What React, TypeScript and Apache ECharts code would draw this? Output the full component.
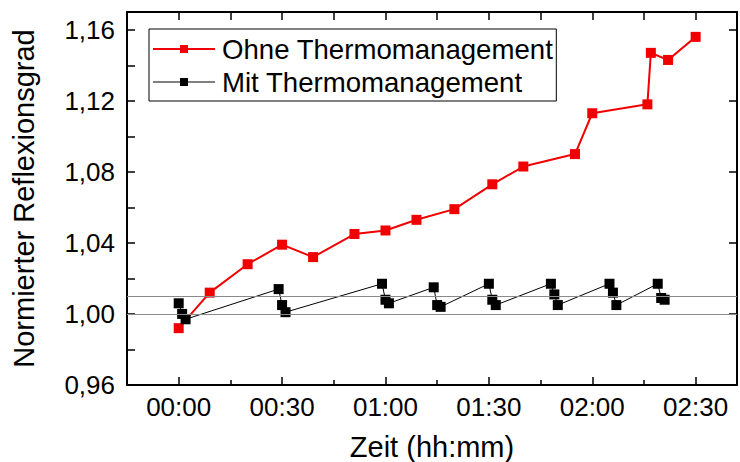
import React, { useEffect, useRef } from 'react';
import * as echarts from 'echarts';

// Elapsed time in minutes and normalised reflectance, without thermal management
const TIME_OHNE = [0, 9, 20, 30, 39, 51, 60, 69, 80, 91, 100, 115, 120, 136, 137, 142, 150];
const VALUE_OHNE = [0.992, 1.012, 1.028, 1.039, 1.032, 1.045, 1.047, 1.053, 1.059, 1.073, 1.083, 1.09, 1.113, 1.118, 1.147, 1.143, 1.156];

// Elapsed time in minutes and normalised reflectance, with thermal management
const TIME_MIT = [0, 1, 2, 29, 30, 31, 59, 60, 61, 74, 75, 76, 90, 91, 92, 108, 109, 110, 125, 126, 127, 139, 140, 141];
const VALUE_MIT = [1.006, 1.0, 0.997, 1.014, 1.005, 1.001, 1.017, 1.008, 1.006, 1.015, 1.005, 1.004, 1.017, 1.008, 1.005, 1.017, 1.011, 1.005, 1.017, 1.012, 1.005, 1.017, 1.009, 1.008];

// Horizontal reference levels
const REF_LEVELS = [1.0, 1.01];

// Time axis ticks (minutes)
const MAJOR_TIME_TICKS = [0, 30, 60, 90, 120, 150];
const MINOR_TIME_TICKS = [15, 45, 75, 105, 135];
const ALL_TIME_TICKS = [...MAJOR_TIME_TICKS, ...MINOR_TIME_TICKS].sort((a, b) => a - b);

const SERIES_NAMES = ['Ohne Thermomanagement', 'Mit Thermomanagement'];

const FONT = "'Liberation Sans', Arial, sans-serif";
const RED = '#f00000';

const X_MIN = -15;
const X_MAX = 162;
const Y_MIN = 0.96;
const Y_MAX = 1.17;

const fmtTime = (m: number) => {
  const h = Math.floor(m / 60);
  const mm = Math.round(m - h * 60);
  return `${String(h).padStart(2, '0')}:${String(mm).padStart(2, '0')}`;
};

const fmtValue = (v: number) => {
  const c = Math.round(v * 100);
  if (c % 4 !== 0 || v > 1.165) return '';
  return v.toFixed(2).replace('.', ',');
};

const GRID = { left: 127, right: 3, top: 12, bottom: 77, outerBoundsMode: 'none' };

export default function App() {
  const ref = useRef<HTMLDivElement>(null);

  useEffect(() => {
    if (!ref.current) return;
    const chart = echarts.init(ref.current, undefined, { renderer: 'svg' });

    const frameLine = { show: true, onZero: false, lineStyle: { color: '#000', width: 2 } };
    const tickStyle = { color: '#000', width: 1.5 };

    chart.setOption({
      animation: false,
      backgroundColor: '#fff',
      textStyle: { fontFamily: FONT },
      grid: [{ ...GRID }, { ...GRID }],
      legend: {
        left: 149,
        top: 29,
        orient: 'vertical',
        padding: [6, 3, 5, 3],
        itemGap: 5,
        itemWidth: 62,
        itemHeight: 10,
        borderColor: '#000',
        borderWidth: 1,
        textStyle: { fontSize: 27.6, color: '#000', fontFamily: FONT, padding: [0, 0, 0, 2] },
        data: [
          { name: SERIES_NAMES[0], lineStyle: { color: RED, width: 2 } },
          { name: SERIES_NAMES[1], lineStyle: { color: '#808080', width: 2 } },
        ],
      },
      xAxis: [
        {
          type: 'value',
          gridIndex: 0,
          position: 'bottom',
          min: X_MIN,
          max: X_MAX,
          name: 'Zeit (hh:mm)',
          nameLocation: 'middle',
          nameGap: 47,
          nameTextStyle: { fontSize: 29, color: '#000', fontFamily: FONT },
          axisLine: frameLine,
          axisTick: { show: true, inside: true, length: 8, customValues: MAJOR_TIME_TICKS, lineStyle: tickStyle },
          axisLabel: { show: true, customValues: MAJOR_TIME_TICKS, formatter: fmtTime, fontSize: 26, color: '#000', margin: 9, fontFamily: FONT },
          splitLine: { show: false },
        },
        {
          type: 'value',
          gridIndex: 0,
          position: 'top',
          min: X_MIN,
          max: X_MAX,
          axisLine: frameLine,
          axisTick: { show: true, inside: true, length: 8, customValues: ALL_TIME_TICKS, lineStyle: tickStyle },
          axisLabel: { show: false },
          splitLine: { show: false },
        },
        {
          type: 'value',
          gridIndex: 1,
          position: 'bottom',
          min: X_MIN,
          max: X_MAX,
          axisLine: { show: false, onZero: false },
          axisTick: { show: true, inside: true, length: 5, customValues: MINOR_TIME_TICKS, lineStyle: tickStyle },
          axisLabel: { show: false },
          splitLine: { show: false },
        },
      ],
      yAxis: [
        {
          type: 'value',
          gridIndex: 0,
          position: 'left',
          min: Y_MIN,
          max: Y_MAX,
          interval: 0.02,
          name: 'Normierter Reflexionsgrad',
          nameLocation: 'middle',
          nameGap: 89,
          nameTextStyle: { fontSize: 29, color: '#000', fontFamily: FONT },
          axisLine: frameLine,
          axisTick: { show: true, inside: true, length: 8, lineStyle: tickStyle },
          axisLabel: { show: true, formatter: fmtValue, fontSize: 26, color: '#000', margin: 12, fontFamily: FONT },
          splitLine: { show: false },
        },
        {
          type: 'value',
          gridIndex: 0,
          position: 'right',
          min: Y_MIN,
          max: Y_MAX,
          interval: 0.04,
          axisLine: frameLine,
          axisTick: { show: true, inside: true, length: 8, lineStyle: tickStyle },
          axisLabel: { show: false },
          splitLine: { show: false },
        },
        {
          type: 'value',
          gridIndex: 1,
          min: Y_MIN,
          max: Y_MAX,
          show: false,
        },
      ],
      series: [
        {
          type: 'line',
          name: 'ref',
          xAxisIndex: 0,
          yAxisIndex: 0,
          data: [],
          z: 1,
          silent: true,
          markLine: {
            silent: true,
            symbol: 'none',
            label: { show: false },
            lineStyle: { color: '#8a8a8a', width: 1, type: 'solid' },
            data: REF_LEVELS.map((v) => ({ yAxis: v })),
          },
        },
        {
          type: 'line',
          name: SERIES_NAMES[0],
          xAxisIndex: 0,
          yAxisIndex: 0,
          data: TIME_OHNE.map((t, i) => [t, VALUE_OHNE[i]]),
          symbol: 'rect',
          symbolSize: 10,
          showAllSymbol: true,
          lineStyle: { color: RED, width: 2 },
          itemStyle: { color: RED },
          z: 3,
        },
        {
          type: 'line',
          name: SERIES_NAMES[1],
          xAxisIndex: 0,
          yAxisIndex: 0,
          data: TIME_MIT.map((t, i) => [t, VALUE_MIT[i]]),
          symbol: 'rect',
          symbolSize: 10,
          showAllSymbol: true,
          lineStyle: { color: '#000', width: 1 },
          itemStyle: { color: '#000' },
          z: 4,
        },
      ],
    });

    return () => chart.dispose();
  }, []);

  return <div ref={ref} style={{ width: 740, height: 462, position: 'fixed', left: 0, top: 0 }} />;
}
